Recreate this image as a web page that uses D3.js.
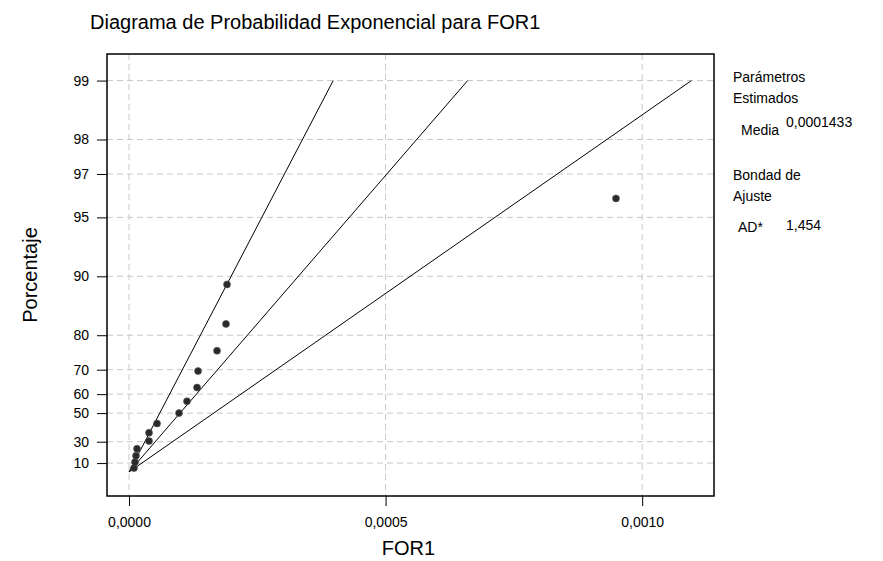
<!DOCTYPE html>
<html>
<head>
<meta charset="utf-8">
<script src="https://cdn.jsdelivr.net/npm/d3@7"></script>
<style>
  html, body { margin: 0; padding: 0; background: #fff; }
  svg { display: block; font-family: "Liberation Sans", Arial, sans-serif; }
</style>
</head>
<body>
<svg id="chart" width="883" height="561"></svg>
<script>
// ---- data ----
const forValues = [0.0000097, 0.0000117, 0.0000136, 0.0000156, 0.000039, 0.000039, 0.0000546,
                   0.0000975, 0.000113, 0.0001326, 0.0001345, 0.0001715, 0.000189, 0.000191, 0.000949];
const percents  = [4.5, 11.0, 17.5, 24.0, 30.5, 37.0, 43.5, 50.0, 56.5, 63.0, 69.5, 76.0, 82.5, 89.0, 96.0];
const lineMeans = [0.0000864, 0.0001433, 0.000238];   // lower bound, fit, upper bound
const lineRange = [0, 99];                              // percent range of the lines
const yTicks = [10, 30, 50, 60, 70, 80, 90, 95, 97, 98, 99];
const xTicks = [0, 0.0005, 0.001];
const paramLabels = ["Media"];
const paramValues = ["0,0001433"];
const fitLabels = ["AD*"];
const fitValues = ["1,454"];

// ---- layout ----
const svg = d3.select("#chart");
const L = 107, R = 714, T = 54, B = 496;
const tr = p => -Math.log(1 - p / 100);
const x = d3.scaleLinear().domain([-0.0000429, 0.00114]).range([L, R]);
const y = d3.scaleLinear().domain([-0.282, 4.918]).range([B, T]);
const fmtX = d => d3.format(".4f")(d).replace(".", ",");

// grid
const grid = svg.append("g").attr("stroke", "#c8c8c8").attr("stroke-dasharray", "6,4").attr("stroke-width", 1);
grid.selectAll(".hy").data(yTicks).join("line")
  .attr("x1", L).attr("x2", R).attr("y1", d => y(tr(d))).attr("y2", d => y(tr(d)));
grid.selectAll(".vx").data(xTicks).join("line")
  .attr("y1", T).attr("y2", B).attr("x1", d => x(d)).attr("x2", d => x(d));

// axes
const yAxis = d3.axisLeft(y).tickValues(yTicks.map(tr)).tickFormat((d, i) => yTicks[i]).tickSize(10).tickPadding(8);
const gy = svg.append("g").attr("transform", `translate(${L},0)`).call(yAxis);
gy.select(".domain").remove();
gy.selectAll("text").attr("font-size", 14).attr("fill", "#000").attr("font-family", "Liberation Sans, Arial, sans-serif");

const xAxis = d3.axisBottom(x).tickValues(xTicks).tickFormat(fmtX).tickSize(10).tickPadding(11);
const gx = svg.append("g").attr("transform", `translate(0,${B})`).call(xAxis);
gx.select(".domain").remove();
gx.selectAll("text").attr("font-size", 14).attr("fill", "#000").attr("font-family", "Liberation Sans, Arial, sans-serif");

// clip
svg.append("clipPath").attr("id", "clip").append("rect").attr("x", L).attr("y", T).attr("width", R - L).attr("height", B - T);

// fit lines
const lineGen = d3.line().x(d => x(d[0])).y(d => y(d[1]));
svg.append("g").attr("clip-path", "url(#clip)").selectAll("path").data(lineMeans).join("path")
  .attr("d", m => lineGen(lineRange.map(p => [m * tr(p), tr(p)])))
  .attr("fill", "none").attr("stroke", "#000").attr("stroke-width", 1);

// points
svg.append("g").selectAll("circle").data(forValues).join("circle")
  .attr("cx", d => x(d)).attr("cy", (d, i) => y(tr(percents[i])))
  .attr("r", 3.5).attr("fill", "#2a2a2a").attr("stroke", "#555").attr("stroke-width", 0.6);

// frame
svg.append("rect").attr("x", L).attr("y", T).attr("width", R - L).attr("height", B - T)
  .attr("fill", "none").attr("stroke", "#000").attr("stroke-width", 1.5);

// titles
svg.append("text").attr("x", 90).attr("y", 29).attr("font-size", 20).text("Diagrama de Probabilidad Exponencial para FOR1");
svg.append("text").attr("x", (L + R) / 2 - 2).attr("y", 555).attr("text-anchor", "middle").attr("font-size", 20).text("FOR1");
svg.append("text").attr("transform", `translate(37,${(T + B) / 2}) rotate(-90)`).attr("text-anchor", "middle")
  .attr("font-size", 20).text("Porcentaje");

// side panel
const side = svg.append("g").attr("font-size", 14);
side.append("text").attr("x", 733).attr("y", 82).text("Parámetros");
side.append("text").attr("x", 733).attr("y", 103).text("Estimados");
paramLabels.forEach((l, i) => {
  side.append("text").attr("x", 741).attr("y", 135 + i * 20).text(l);
  side.append("text").attr("x", 786).attr("y", 127 + i * 20).text(paramValues[i]);
});
side.append("text").attr("x", 733).attr("y", 180).text("Bondad de");
side.append("text").attr("x", 733).attr("y", 201).text("Ajuste");
fitLabels.forEach((l, i) => {
  side.append("text").attr("x", 738).attr("y", 232 + i * 20).text(l);
  side.append("text").attr("x", 786).attr("y", 230 + i * 20).text(fitValues[i]);
});
</script>
</body>
</html>
